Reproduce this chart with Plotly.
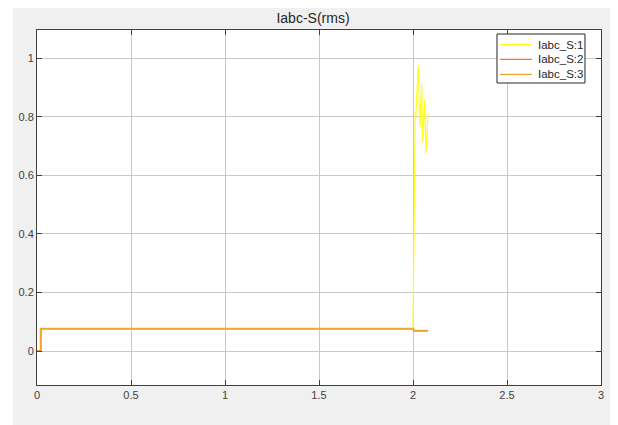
import plotly.graph_objects as go

title_text = "Iabc-S(rms)"
series_names = ["Iabc_S:1", "Iabc_S:2", "Iabc_S:3"]
series_colors = ["#ffff1a", "#ff6f3c", "#f2a72c"]

t_phase1 = [0, 0.02, 0.02, 2.0, 2.012, 2.015, 2.028, 2.037, 2.046, 2.051, 2.062, 2.069, 2.080]
v_phase1 = [0, 0, 0.076, 0.076, 0.817, 0.80, 0.976, 0.765, 0.913, 0.714, 0.857, 0.675, 0.812]

t_phase2 = [0, 0.02, 0.02, 2.0, 2.006, 2.08]
v_phase2 = [0, 0, 0.076, 0.076, 0.069, 0.069]

t_phase3 = [0, 0.02, 0.02, 2.0, 2.006, 2.08]
v_phase3 = [0, 0, 0.076, 0.076, 0.069, 0.069]

x_ticks = [0, 0.5, 1, 1.5, 2, 2.5, 3]
x_tick_labels = ["0", "0.5", "1", "1.5", "2", "2.5", "3"]
y_ticks = [0, 0.2, 0.4, 0.6, 0.8, 1]
y_tick_labels = ["0", "0.2", "0.4", "0.6", "0.8", "1"]

FONT = "Liberation Sans, Arial, sans-serif"

fig = go.Figure()
fig.add_trace(go.Scatter(x=t_phase1, y=v_phase1, mode="lines", name=series_names[0],
                         line=dict(color=series_colors[0], width=1.2)))
fig.add_trace(go.Scatter(x=t_phase2, y=v_phase2, mode="lines", name=series_names[1],
                         line=dict(color=series_colors[1], width=1.2)))
fig.add_trace(go.Scatter(x=t_phase3, y=v_phase3, mode="lines", name=series_names[2],
                         line=dict(color=series_colors[2], width=2)))

axis_common = dict(showline=True, linecolor="#404040", linewidth=1, mirror="allticks",
                   ticks="inside", ticklen=5, tickcolor="#404040",
                   showgrid=True, gridcolor="#c8c8c8", gridwidth=1, zeroline=False,
                   tickfont=dict(family=FONT, size=11, color="#404040"))

fig.update_xaxes(range=[0, 3], tickvals=x_ticks, ticktext=x_tick_labels, **axis_common)
fig.update_yaxes(range=[-0.116, 1.096], tickvals=y_ticks, ticktext=y_tick_labels, **axis_common)

# compact MATLAB-style legend box (paper coordinates of the plot area)
legend_box = dict(x0=0.8156, x1=0.9716, y0=0.8507, y1=0.9887)
legend_rows = [0.9586, 0.9175, 0.8752]
shapes = [
    dict(type="rect", xref="paper", yref="paper", x0=-0.06, x1=-0.0426, y0=-0.2, y1=1.2,
         fillcolor="white", line=dict(width=0), layer="below"),
    dict(type="rect", xref="paper", yref="paper", **legend_box,
         fillcolor="white", line=dict(color="#262626", width=1), layer="above"),
]
annotations = []
for name, color, yr in zip(series_names, series_colors, legend_rows):
    shapes.append(dict(type="line", xref="paper", yref="paper", x0=0.8209, x1=0.8777, y0=yr, y1=yr,
                       line=dict(color=color, width=1.2), layer="above"))
    annotations.append(dict(xref="paper", yref="paper", x=0.884, y=yr, text=name, showarrow=False,
                            xanchor="left", yanchor="middle",
                            font=dict(family=FONT, size=11.5, color="#262626")))

# page is offset by the 8px body margin: figure is 610x417, plot area at page x 37-601, y 30-385
fig.update_layout(
    width=610, height=417,
    margin=dict(l=29, r=17, t=22, b=40),
    paper_bgcolor="#f0f0f0", plot_bgcolor="white",
    title=dict(text=title_text, x=0.5, xanchor="center", y=0.975, yanchor="middle",
               font=dict(family=FONT, size=14, color="#262626")),
    showlegend=False,
    shapes=shapes,
    annotations=annotations,
)

fig.write_html("out.html")
